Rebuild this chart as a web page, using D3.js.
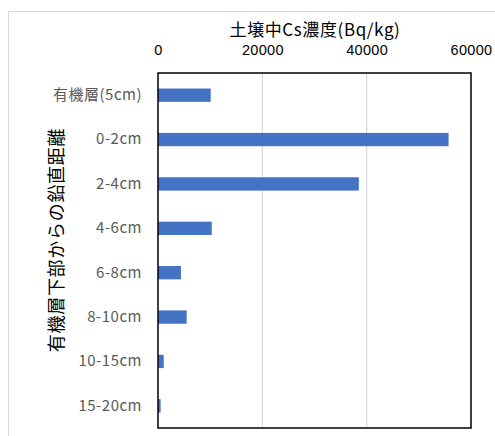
<!DOCTYPE html>
<meta charset="utf-8">
<style>
  body { margin: 0; background: #fff; }
  text { font-family: "Noto Sans CJK JP", "Noto Sans", sans-serif; }
  .xtick text { font-family: "Liberation Sans", "DejaVu Sans", sans-serif; }
</style>
<body>
<script src="https://d3js.org/d3.v7.min.js"></script>
<script>
// depth layers and Cs concentration (Bq/kg)
const layers = ["有機層(5cm)", "0-2cm", "2-4cm", "4-6cm", "6-8cm", "8-10cm", "10-15cm", "15-20cm"];
const csValues = [10100, 55700, 38500, 10300, 4400, 5500, 1100, 500];
const xTicks = [0, 20000, 40000, 60000];

const W = 495, H = 436;
const margin = {top: 73, right: 24, bottom: 8, left: 158},
    width = 471 - margin.left,
    height = 428 - margin.top;

const svg = d3.select("body").append("svg")
    .attr("width", W)
    .attr("height", H);

// outer chart frame (cut off at right/bottom like the original)
svg.append("rect")
    .attr("x", 8.5).attr("y", 11.5)
    .attr("width", W).attr("height", H)
    .attr("fill", "none")
    .attr("stroke", "#d9d9d9");

const g = svg.append("g")
    .attr("transform", "translate(" + margin.left + "," + margin.top + ")");

const x = d3.scaleLinear().domain([0, 60000]).range([0, width]);
const y = d3.scaleBand().domain(layers).range([0, height])
    .paddingInner(0.7).paddingOuter(0.35);

// gridlines
g.selectAll(".grid").data(xTicks.slice(1, -1)).enter()
  .append("line")
    .attr("x1", d => x(d)).attr("x2", d => x(d))
    .attr("y1", 0).attr("y2", height)
    .attr("stroke", "#d9d9d9")
    .attr("stroke-width", 1.2);

// bars
g.selectAll(".bar").data(layers).enter()
  .append("rect")
    .attr("class", "bar")
    .attr("x", x(0))
    .attr("y", d => y(d))
    .attr("width", (d, i) => x(csValues[i]) - x(0))
    .attr("height", y.bandwidth())
    .attr("fill", "#4472c4");

// plot border
g.append("rect")
    .attr("x", 0).attr("y", 0)
    .attr("width", width).attr("height", height)
    .attr("fill", "none")
    .attr("stroke", "#000")
    .attr("stroke-width", 1.5);

// top axis labels
const xAxis = g.append("g")
    .attr("class", "xtick")
    .call(d3.axisTop(x).tickValues(xTicks).tickSize(0).tickPadding(18).tickFormat(d3.format("d")));
xAxis.select(".domain").remove();
xAxis.selectAll("text")
    .attr("fill", "#000")
    .style("font-size", "14.5px")
    .style("letter-spacing", "0.3px");

// left axis labels
const yAxis = g.append("g")
    .call(d3.axisLeft(y).tickSize(0).tickPadding(16));
yAxis.select(".domain").remove();
yAxis.selectAll("text")
    .attr("fill", "#595959")
    .style("font-size", "15px")
    .style("letter-spacing", "0.5px");

// titles
svg.append("text")
    .attr("x", 315).attr("y", 36)
    .attr("text-anchor", "middle")
    .attr("fill", "#000")
    .style("font-size", "17px")
    .style("letter-spacing", "0.6px")
    .text("土壌中Cs濃度(Bq/kg)");

svg.append("text")
    .attr("transform", "translate(63,240) rotate(-90)")
    .attr("text-anchor", "middle")
    .attr("fill", "#000")
    .style("font-size", "18px")
    .style("letter-spacing", "0.7px")
    .text("有機層下部からの鉛直距離");
</script>
</body>
